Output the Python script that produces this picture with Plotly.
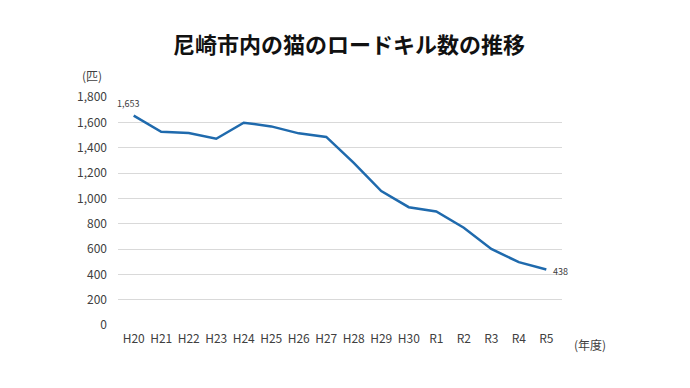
import plotly.graph_objects as go

years = ["H20", "H21", "H22", "H23", "H24", "H25", "H26", "H27", "H28", "H29", "H30",
         "R1", "R2", "R3", "R4", "R5"]
counts = [1653, 1525, 1515, 1470, 1597, 1568, 1513, 1485, 1280, 1057, 930,
          896, 768, 600, 496, 438]
yticks = [0, 200, 400, 600, 800, 1000, 1200, 1400, 1600, 1800]
ytick_labels = ["0", "200", "400", "600", "800", "1,000", "1,200", "1,400", "1,600", "1,800"]

FONT = "Noto Sans CJK JP"
TXT = "#404040"

fig = go.Figure()
fig.add_trace(go.Scatter(
    x=years, y=counts, mode="lines",
    line=dict(color="#1f6aad", width=2.5),
    hoverinfo="skip", showlegend=False,
))

fig.add_annotation(x=years[0], y=counts[0], text=f"{counts[0]:,}", showarrow=False,
                   xanchor="center", yanchor="bottom", yshift=4, xshift=-6,
                   font=dict(family=FONT, size=9, color=TXT))
fig.add_annotation(x=years[-1], y=counts[-1], text=f"{counts[-1]:,}", showarrow=False,
                   xanchor="left", yanchor="middle", xshift=5, yshift=-2,
                   font=dict(family=FONT, size=9, color=TXT))

fig.add_annotation(xref="paper", yref="paper", x=-0.0586, y=1.094, text="(匹)",
                   showarrow=False, xanchor="center", yanchor="middle",
                   font=dict(family=FONT, size=12, color=TXT))
fig.add_annotation(xref="paper", yref="paper", x=1.0225, y=-0.0877, text="(年度)",
                   showarrow=False, xanchor="left", yanchor="middle",
                   font=dict(family=FONT, size=12, color=TXT))

fig.update_layout(
    width=682, height=380,
    margin=dict(l=110, r=128, t=89, b=63),
    paper_bgcolor="white", plot_bgcolor="white",
    title=dict(text="<b>尼崎市内の猫のロードキル数の推移</b>", x=0.5, xanchor="center",
               y=0.903, yanchor="middle",
               font=dict(family=FONT, size=22, color="#111111")),
    font=dict(family=FONT, size=12, color=TXT),
    xaxis=dict(range=[-0.57, 15.57], showgrid=False, zeroline=False, showline=False,
               ticks="", ticklabelstandoff=5,
               tickfont=dict(family=FONT, size=12, color=TXT)),
    yaxis=dict(range=[0, 1800], tickvals=yticks, ticktext=ytick_labels,
               showgrid=True, gridcolor="#d9d9d9", gridwidth=1, zeroline=False,
               showline=False, ticks="", ticklabelstandoff=10,
               tickfont=dict(family=FONT, size=12, color=TXT)),
)

fig.write_html("out.html")
